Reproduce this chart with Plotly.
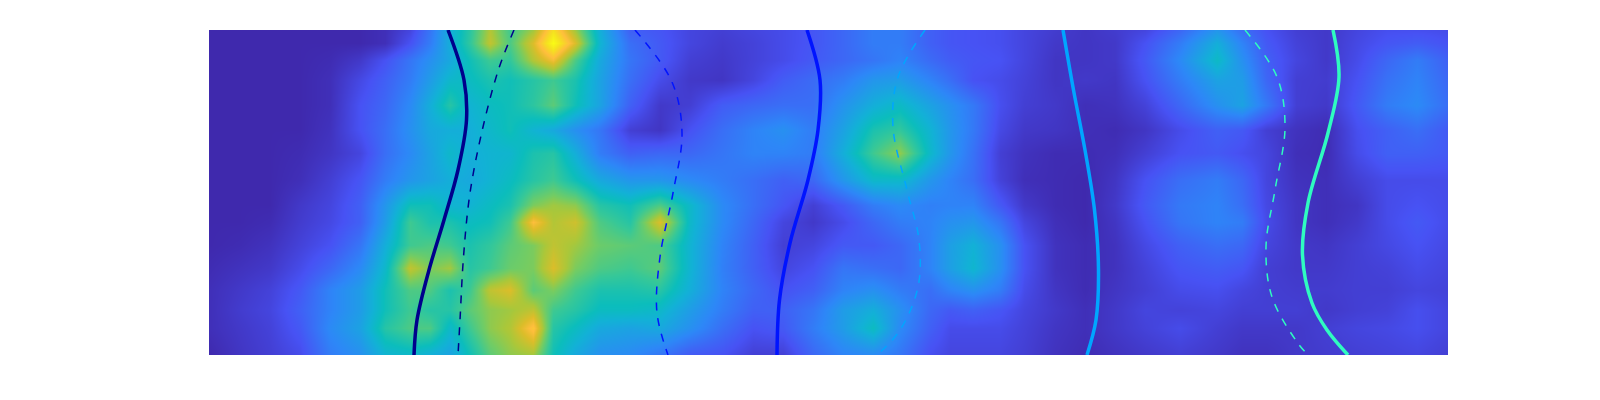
import plotly.graph_objects as go

# Heatmap sample positions (image-based axis units)
col_x = [209,240,270,300,330,360,385,410,430,450,470,490,510,533,553,575,600,630,660,690,722,753,783,813,843,873,900,930,950,973,1000,1024,1055,1085,1115,1145,1180,1217,1242,1266,1296,1326,1357,1387,1417,1448]
row_y = [30,43,60,80,105,130,153,180,205,222,245,268,290,310,328,355]

# Field values, one list per row (0..100 colour scale)
r00 = [1,1,1,1,1,1,3,10,24,42,55,72,58,70,92,70,42,18,15,10,8,10,12,15,20,26,26,18,15,14,13,10,7,5,7,10,20,34,22,14,8,6,10,13,13,12]
r01 = [1,1,1,1,1,1,3,14,26,42,56,74,60,78,100,78,44,22,16,10,7,9,12,15,20,26,26,18,15,14,13,10,6,5,6,14,26,42,28,16,9,6,11,15,17,14]
r02 = [1,1,1,1,2,6,14,24,32,40,50,58,56,72,82,60,40,24,16,8,6,9,12,16,20,24,28,21,17,15,14,10,5,5,6,16,30,47,32,18,10,6,12,20,26,18]
r03 = [1,1,1,1,3,11,18,26,36,46,48,52,50,54,58,52,38,22,12,6,5,10,17,21,26,34,36,28,22,14,12,9,5,6,5,14,26,38,36,20,8,7,14,23,28,20]
r04 = [1,1,1,1,3,14,20,30,42,54,44,48,50,55,62,50,38,18,6,8,17,20,22,22,33,42,47,38,32,25,13,8,6,3,4,9,20,32,38,25,8,6,16,26,30,22]
r05 = [1,1,1,1,4,14,22,32,40,42,42,46,50,44,40,32,24,8,5,14,22,28,32,26,38,52,56,44,34,25,11,6,5,3,2,5,12,18,16,8,4,2,13,18,22,16]
r06 = [1,1,1,2,5,10,22,30,38,46,42,44,45,52,54,42,26,18,20,20,24,28,28,26,42,58,68,46,34,23,8,4,2,2,3,8,14,16,13,10,3,2,12,18,18,16]
r07 = [1,1,1,3,8,15,26,34,38,42,40,44,48,54,58,50,40,34,34,30,26,22,18,20,34,46,46,34,28,22,9,3,2,1,5,14,22,26,20,10,4,3,8,12,12,12]
r08 = [1,1,1,6,10,18,34,50,50,44,44,48,52,66,70,68,54,50,60,46,30,22,15,8,16,26,30,27,28,28,16,6,2,1,6,16,25,28,22,11,5,3,5,12,14,12]
r09 = [1,1,2,7,11,18,36,58,52,52,48,50,58,84,72,76,60,54,78,46,30,20,10,6,12,20,26,28,32,34,24,10,3,1,5,14,24,28,26,12,5,3,6,12,16,12]
r10 = [1,2,4,9,14,24,42,58,60,58,52,56,62,66,74,70,64,62,60,44,28,18,8,10,16,16,20,28,37,43,32,14,4,2,4,11,18,22,20,10,6,5,8,11,14,11]
r11 = [2,4,6,12,20,30,46,74,66,70,54,58,64,66,78,66,60,58,62,44,27,18,10,14,24,22,20,28,37,45,32,14,4,2,4,9,15,17,15,8,6,6,8,9,12,10]
r12 = [3,6,9,16,28,36,50,60,60,52,58,74,78,62,66,58,52,52,54,42,28,20,14,18,28,32,26,22,28,32,26,12,5,2,5,8,12,13,10,8,7,7,8,8,10,9]
r13 = [3,7,10,18,28,36,50,58,54,54,62,68,70,74,58,54,48,48,46,36,26,18,18,24,36,42,32,20,16,18,15,10,6,3,6,10,9,10,8,8,8,6,8,9,13,10]
r14 = [3,6,9,16,30,38,54,60,60,46,58,68,72,86,54,48,40,38,40,32,22,14,16,26,36,48,30,18,12,12,12,9,5,3,6,9,12,8,6,6,6,8,10,11,13,10]
r15 = [1,5,8,12,26,32,44,46,42,38,50,62,68,70,50,40,32,30,24,16,14,8,8,20,28,30,24,13,10,10,10,8,4,2,4,6,8,6,4,4,6,7,8,9,10,8]
z_rows = [r00,r01,r02,r03,r04,r05,r06,r07,r08,r09,r10,r11,r12,r13,r14,r15]

# Parula colour scale
scale_pos = [0,0.14,0.29,0.43,0.49,0.57,0.65,0.71,0.78,0.84,0.92,1]
scale_col = ["#3e26a8","#4752f4","#2d87f7","#12b1d6","#0bbdbc","#37c897","#72cc64","#abc739","#dcbd29","#febe3c","#f5e020","#f9fb15"]

# Contour lines
s1_y = [30,80,120,170,220,270,320,355]
s1_x = [448,464,466.5,458,444,429,417,414]
d1_y = [30,68,127,193,257,320,355]
d1_x = [514,499,483,470,463.5,460,458]
d2_y = [30,82,133,193,257,313,355]
d2_x = [635,672,682,673,660,657,668]
s2_y = [30,80,130,180,243,300,355]
s2_x = [807,820,818,808,790,779.5,777]
d3_y = [30,77,127,190,240,287,330,355]
d3_x = [925,898,893,907,919,918,900,877]
s3_y = [30,90,150,210,270,320,355]
s3_x = [1063,1073.5,1085,1094.5,1098.5,1096,1087]
d4_y = [30,77,127,190,247,297,342,355]
d4_x = [1245,1277,1285,1275,1266,1272,1297,1308]
s4_y = [30,77,133,203,255,303,330,355]
s4_x = [1333,1339,1328,1308,1302.5,1312,1327,1348]

line_specs = [
    (s1_x, s1_y, "#00008c", "solid"),
    (d1_x, d1_y, "#00008c", "dash"),
    (d2_x, d2_y, "#0014ff", "dash"),
    (s2_x, s2_y, "#0014ff", "solid"),
    (d3_x, d3_y, "#00a6ff", "dash"),
    (s3_x, s3_y, "#00a6ff", "solid"),
    (d4_x, d4_y, "#2ffcc0", "dash"),
    (s4_x, s4_y, "#2ffcc0", "solid"),
]

fig = go.Figure()
fig.add_trace(go.Heatmap(
    x=col_x, y=row_y, z=z_rows, zmin=0, zmax=100, zsmooth="best",
    colorscale=[[p, c] for p, c in zip(scale_pos, scale_col)],
    showscale=False, hoverinfo="skip",
))
for xs, ys, color, style in line_specs:
    solid = style == "solid"
    fig.add_trace(go.Scatter(
        x=xs, y=ys, mode="lines", showlegend=False, hoverinfo="skip",
        line=dict(color=color, width=3.5 if solid else 1.5, shape="spline",
                  smoothing=1.0, dash="solid" if solid else "8px,8px"),
    ))

fig.update_layout(
    width=1600, height=400, margin=dict(l=209, r=152, t=30, b=45),
    paper_bgcolor="white", plot_bgcolor="white", showlegend=False,
    xaxis=dict(range=[209, 1448], visible=False),
    yaxis=dict(range=[355, 30], visible=False),
)
fig.write_html("out.html", config=dict(displayModeBar=False),
               post_script="document.body.style.margin='0';")
